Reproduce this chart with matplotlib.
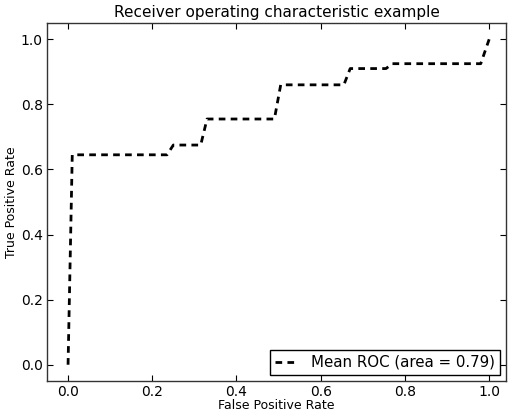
import matplotlib
matplotlib.use("Agg")
import matplotlib.pyplot as plt

fpr = [0.0, 0.01, 0.235, 0.25, 0.315, 0.33, 0.49, 0.505, 0.655, 0.67, 0.755, 0.77, 0.98, 1.0]
tpr = [0.0, 0.645, 0.645, 0.675, 0.675, 0.755, 0.755, 0.86, 0.86, 0.91, 0.91, 0.925, 0.925, 1.0]
label = "Mean ROC (area = 0.79)"
xticks = [0.0, 0.2, 0.4, 0.6, 0.8, 1.0]
yticks = [0.0, 0.2, 0.4, 0.6, 0.8, 1.0]

plt.rcParams['font.family'] = ['DejaVu Sans']
fig = plt.figure(figsize=(5.08, 4.13), dpi=100)
ax = fig.add_axes([47/508, 1 - 381/413, (506-47)/508, (381-23)/413])
ax.plot(fpr, tpr, color='black', linestyle='--', linewidth=2, dashes=(2.4, 1.9), label=label)
ax.set_xlim(-0.05, 1.04)
ax.set_ylim(-0.05, 1.05)
ax.set_xticks(xticks)
ax.set_yticks(yticks)
ax.set_xticklabels([f"{t:.1f}" for t in xticks], fontsize=10)
ax.set_yticklabels([f"{t:.1f}" for t in yticks], fontsize=10)
ax.tick_params(direction='in', top=True, right=True, length=4, width=0.8, pad=3)
for s in ax.spines.values():
    s.set_linewidth(1.0)
    s.set_color('#333333')
ax.set_xlabel("False Positive Rate", fontsize=9, labelpad=0)
ax.set_ylabel("True Positive Rate", fontsize=9, labelpad=2)
ax.set_title("Receiver operating characteristic example", fontsize=11, pad=4)
leg = ax.legend(loc='lower right', fontsize=10.8, fancybox=False, framealpha=1,
                edgecolor='black', borderaxespad=0.4, handlelength=1.4,
                handletextpad=1.0, borderpad=0.35)
leg.get_frame().set_linewidth(1.0)
fig.savefig("out.png", dpi=100, facecolor='white')
